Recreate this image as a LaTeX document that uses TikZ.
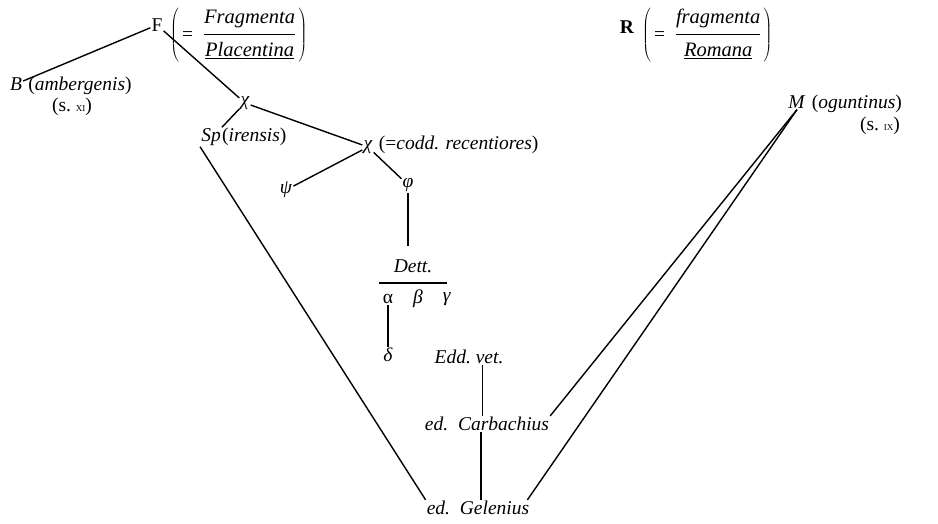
\documentclass[tikz,border=0pt]{standalone}
\usepackage{fontspec}
\setmainfont{Liberation Serif}
\newcommand{\bigfs}{\fontsize{19.5}{23}\selectfont}
\newcommand{\fracexp}[2]{$\left(\vcenter{\hbox{\,=\;\;\fontsize{20.5}{24}\selectfont\begin{tabular}{@{}c@{}}\rule{0pt}{17pt}\textit{#1}\\[3pt]\hline\rule{0pt}{22pt}\underline{\textit{#2}}\end{tabular}\,}}\right)$}
\begin{document}
\begin{tikzpicture}[x=1pt,y=-1pt,
  every node/.style={font=\bigfs, inner sep=1pt},
  txt/.style={anchor=base west, inner sep=1pt},
  edge/.style={line width=1.4pt},
  thin edge/.style={line width=0.7pt}]
\useasboundingbox (0,0) rectangle (938,524);
% top row
\node (F) at (157,25) {F};
\node[anchor=west, inner sep=0pt] (Fpar) at (170,35) {\fracexp{Fragmenta}{Placentina}};
\node (R) at (627,27) {\textbf{R}};
\node[anchor=west, inner sep=0pt] (Rpar) at (642,35) {\fracexp{fragmenta}{Romana}};
% B
\node (B) at (16,84) {\textit{B}};
\node[txt] (Bt) at ([xshift=4pt]B.base east) {(\textit{ambergenis})};
\node (sXI) at (72,107) {(s.\ {\small XI})};
% chi 1
\node (chiA) at (245,103) {\textit{χ}};
% Sp
\node (Sp) at (211,137) {\textit{Sp}};
\node[txt] (Spt) at ([xshift=-1pt]Sp.base east) {(\textit{irensis})};
% chi 2
\node (chiB) at (368,147) {\textit{χ}};
\node[txt] (chiBt) at ([xshift=4pt]chiB.base east) {(=\textit{codd. recentiores})};
\node (psi) at (286,190) {\textit{ψ}};
\node (phi) at (408,185) {\textit{φ}};
% Dett
\node (Dett) at (413,266) {\textit{Dett.}};
\coordinate (rl) at (379,283);
\coordinate (rr) at (447,283);
\node (alpha) at (388,299) {α};
\node (beta) at (418,299) {\textit{β}};
\node (gamma) at (447,299) {\textit{γ}};
\node (delta) at (388,355) {\textit{δ}};
\node (EddV) at (469,357) {\textit{Edd.\ vet.}};
\node (Carb) at (487,424) {\textit{ed.\ \ Carbachius}};
\node (Gel) at (478,508) {\textit{ed.\ \ Gelenius}};
% M
\node (M) at (797,102) {\textit{M}};
\node[txt] (Mt) at ([xshift=4pt]M.base east) {(\textit{oguntinus})};
\node (sIX) at (880,126) {(s.\ {\small IX})};
% connectors
\draw[edge] (F) -- (B);
\draw[edge] (F) -- (chiA);
\draw[edge] (chiA) -- (Sp.north east);
\draw[edge] (chiA) -- (chiB);
\draw[edge] (chiB) -- (psi);
\draw[edge] (chiB) -- (phi);
\draw[edge] (phi.south) -- (phi.south |- 0,246);
\draw[edge] (rl) -- (rr);
\draw[edge] (alpha) -- (delta);
\draw[thin edge] ([xshift=13pt]EddV.south) -- ([xshift=13pt]EddV.south |- Carb.north);
\draw[edge] ([xshift=-6pt]Carb.south) -- ([xshift=-6pt]Carb.south |- Gel.north);
\draw[edge] (Sp.south west) -- (Gel.north west);
\draw[edge] (M.south) -- (Carb.north east);
\draw[edge] (M.south) -- ([xshift=-3pt]Gel.north east);
\end{tikzpicture}
\end{document}
